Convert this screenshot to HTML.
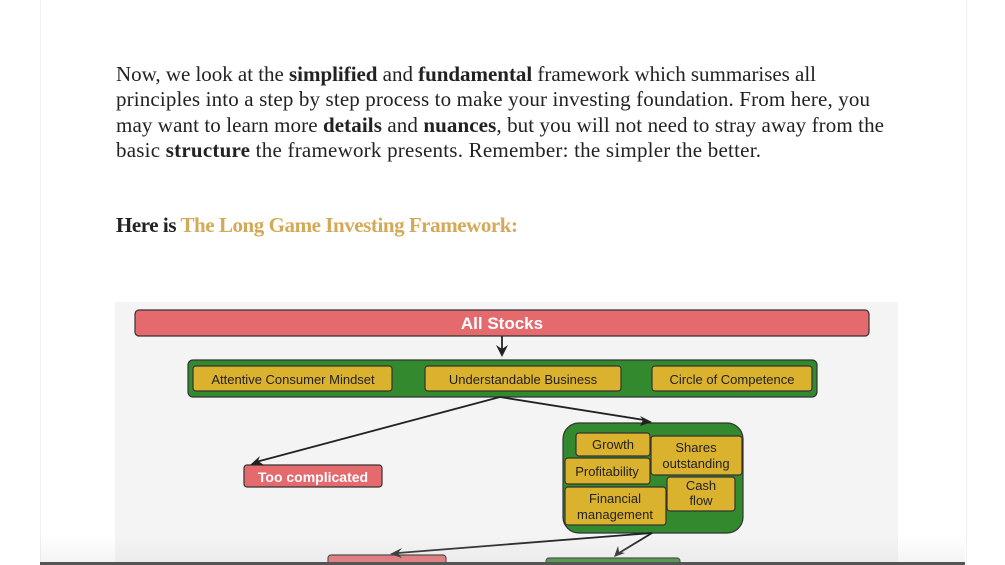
<!DOCTYPE html>
<html><head><style>
body{margin:0;width:1005px;height:565px;overflow:hidden;background:#fff;position:relative;font-family:"Liberation Sans",sans-serif}
.page{position:absolute;left:40px;top:0;width:925px;height:565px;background:#fff;border-left:1px solid #f0f0f0;border-right:1px solid #f0f0f0}
.shade{position:absolute;left:40px;top:535px;width:925px;height:28px;background:linear-gradient(rgba(255,255,255,0),rgba(210,210,210,0.25))}
.bar{position:absolute;left:40px;top:562px;width:925px;height:3px;background:#555}
</style></head><body>
<div class="page"></div>
<svg width="1005" height="565" style="position:absolute;left:0;top:0" font-family="Liberation Serif, serif">
<g font-size="21" fill="#222">
<text x="116" y="81" textLength="700" lengthAdjust="spacing">Now, we look at the <tspan font-weight="bold">simplified</tspan> and <tspan font-weight="bold">fundamental</tspan> framework which summarises all</text>
<text x="116" y="106" textLength="754" lengthAdjust="spacing">principles into a step by step process to make your investing foundation. From here, you</text>
<text x="116" y="132" textLength="768" lengthAdjust="spacing">may want to learn more <tspan font-weight="bold">details</tspan> and <tspan font-weight="bold">nuances</tspan>, but you will not need to stray away from the</text>
<text x="116" y="157" textLength="645" lengthAdjust="spacing">basic <tspan font-weight="bold">structure</tspan> the framework presents. Remember: the simpler the better.</text>
<text x="116" y="232" textLength="402" lengthAdjust="spacing" font-weight="bold">Here is <tspan fill="#d4a957">The Long Game Investing Framework:</tspan></text>
</g>
<rect x="115" y="302" width="783" height="263" fill="#f4f4f4"/>
<g font-family="Liberation Sans, sans-serif" stroke="#333" stroke-width="1.2">
<rect x="135" y="310" width="734" height="26" rx="4" fill="#e46a6e"/>
<rect x="188" y="360" width="629" height="37" rx="5" fill="#338a2e"/>
<rect x="193" y="366" width="199" height="25" rx="3" fill="#dbb22d"/>
<rect x="425" y="366" width="196" height="25" rx="3" fill="#dbb22d"/>
<rect x="652" y="366" width="160" height="25" rx="3" fill="#dbb22d"/>
<rect x="244" y="465" width="138" height="22" rx="3" fill="#e46a6e"/>
<rect x="563" y="423" width="180" height="110" rx="16" fill="#338a2e"/>
<rect x="576" y="433" width="74" height="23" rx="3" fill="#dbb22d"/>
<rect x="651" y="436" width="91" height="39" rx="3" fill="#dbb22d"/>
<rect x="565" y="458" width="85" height="26" rx="3" fill="#dbb22d"/>
<rect x="667" y="477" width="68" height="34" rx="3" fill="#dbb22d"/>
<rect x="565" y="487" width="101" height="38" rx="3" fill="#dbb22d"/>
<rect x="328" y="555" width="118" height="20" rx="3" fill="#e46a6e"/>
<rect x="546" y="558" width="134" height="20" rx="3" fill="#338a2e"/>
</g>
<g stroke="#222" stroke-width="1.8" fill="none">
<line x1="502" y1="336" x2="502" y2="350"/>
<line x1="500" y1="397" x2="256" y2="462"/>
<line x1="500" y1="397" x2="644" y2="420"/>
<line x1="652" y1="533" x2="398" y2="553"/>
<line x1="652" y1="533" x2="619" y2="553"/>
</g>
<g fill="#222">
<polygon points="496,345 502,357 508,345 502,349"/>
<polygon points="250,465 260,456 258,461 264,465"/>
<polygon points="652,422 640,416 643,420 640,426"/>
<polygon points="390,554 402,548 398,553 402,558"/>
<polygon points="614,557 618,546 619,552 625,553"/>
</g>
<g font-family="Liberation Sans, sans-serif" text-anchor="middle" font-size="13" fill="#222">
<text x="502" y="329" fill="#fff" font-size="17" font-weight="bold">All Stocks</text>
<text x="293" y="384">Attentive Consumer Mindset</text>
<text x="523" y="384">Understandable Business</text>
<text x="732" y="384">Circle of Competence</text>
<text x="313" y="482" fill="#fff" font-size="14" font-weight="bold">Too complicated</text>
<text x="613" y="449">Growth</text>
<text x="696" y="452">Shares</text>
<text x="696" y="468">outstanding</text>
<text x="607" y="476">Profitability</text>
<text x="701" y="490">Cash</text>
<text x="701" y="505">flow</text>
<text x="615" y="503">Financial</text>
<text x="615" y="519">management</text>
</g>
</svg>
<div class="shade"></div>
<div class="bar"></div>
</body></html>
